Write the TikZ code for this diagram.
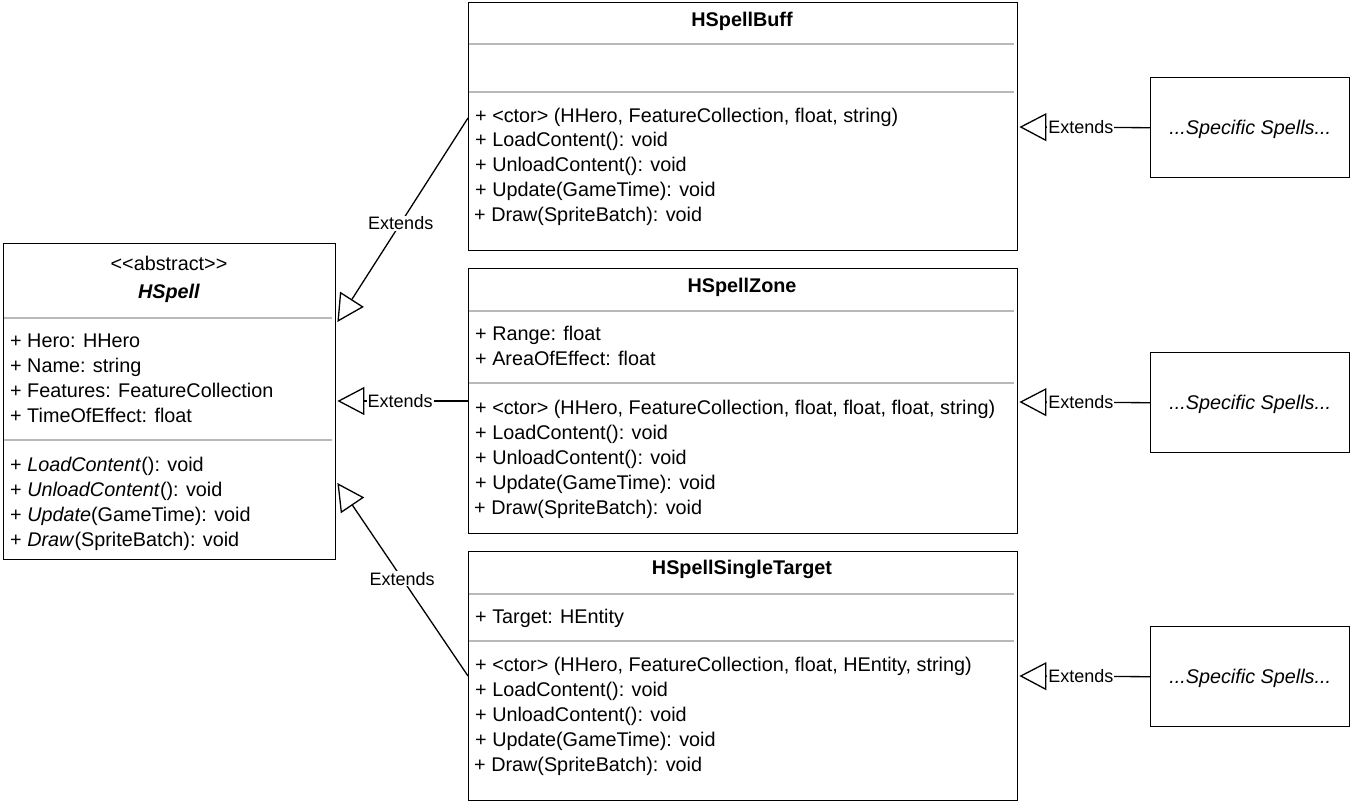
\documentclass[tikz,border=0pt]{standalone}
\usepackage{fontspec}
\setmainfont{Liberation Sans}
\usetikzlibrary{arrows.meta,calc}
\begin{document}
\begin{tikzpicture}[x=1pt,y=-1pt,
  cls/.style={draw, line width=1.4pt, inner sep=0pt, anchor=north west, fill=white},
  sep/.style={draw=gray!55, line width=1.4pt},
  txt/.style={anchor=west, inner sep=0pt, text height=14.3pt, text depth=0pt, font=\fontsize{19.8}{24}\selectfont},
  ttl/.style={anchor=center, inner sep=0pt, text height=14.3pt, text depth=0pt, font=\fontsize{19.8}{24}\selectfont\bfseries},
  lbl/.style={fill=white, inner sep=1pt, text height=13pt, text depth=0pt, font=\fontsize{18}{22}\selectfont},
  ext/.style={line width=1.3pt, -{Triangle[length=27pt, width=28pt, fill=white, line width=1.3pt]}}
]
\useasboundingbox (0,0) rectangle (1352,805);
\fill[white] (0,0) rectangle (1352,805);

% HSpell
\node[cls, minimum width=332pt, minimum height=316pt] (spell) at (3,243) {};
\node[anchor=center, inner sep=0pt, text height=14.3pt, text depth=0pt, font=\fontsize{19.8}{24}\selectfont] (spellst) at (169,263) {<{}<abstract>{}>};
\node[ttl] (spellt) at (169,291) {\textit{HSpell}};
\draw[sep] (4,318) -- (332,318);
\draw[sep] (4,440) -- (332,440);
\node[txt] (sa1) at (10,340) {+ Hero: HHero};
\node[txt] (sa2) at (10,365) {+ Name: string};
\node[txt] (sa3) at (10,390) {+ Features: FeatureCollection};
\node[txt] (sa4) at (10,415) {+ TimeOfEffect: float};
\node[txt] (sm1) at (10,464) {+ \textit{LoadContent}(): void};
\node[txt] (sm2) at (10,489) {+ \textit{UnloadContent}(): void};
\node[txt] (sm3) at (10,514) {+ \textit{Update}(GameTime): void};
\node[txt] (sm4) at (10,539) {+ \textit{Draw}(SpriteBatch): void};

% HSpellBuff
\node[cls, minimum width=549pt, minimum height=248pt] (buff) at (468,2) {};
\node[ttl] (bufft) at (742,19) {HSpellBuff};
\draw[sep] (469,44) -- (1014,44);
\draw[sep] (469,92) -- (1014,92);
\node[txt] (bm1) at (475,115) {+ <ctor> (HHero, FeatureCollection, float, string)};
\node[txt] (bm2) at (475,139) {+ LoadContent(): void};
\node[txt] (bm3) at (475,164) {+ UnloadContent(): void};
\node[txt] (bm4) at (475,189) {+ Update(GameTime): void};
\node[txt] (bm5) at (474,214) {+ Draw(SpriteBatch): void};

% HSpellZone
\node[cls, minimum width=549pt, minimum height=265pt] (zone) at (468,268) {};
\node[ttl] (zonet) at (742,285) {HSpellZone};
\draw[sep] (469,311) -- (1014,311);
\draw[sep] (469,383) -- (1014,383);
\node[txt] (za1) at (475,333) {+ Range: float};
\node[txt] (za2) at (475,358) {+ AreaOfEffect: float};
\node[txt] (zm1) at (475,407) {+ <ctor> (HHero, FeatureCollection, float, float, float, string)};
\node[txt] (zm2) at (475,432) {+ LoadContent(): void};
\node[txt] (zm3) at (475,457) {+ UnloadContent(): void};
\node[txt] (zm4) at (475,482) {+ Update(GameTime): void};
\node[txt] (zm5) at (474,507) {+ Draw(SpriteBatch): void};

% HSpellSingleTarget
\node[cls, minimum width=549pt, minimum height=249pt] (single) at (468,551) {};
\node[ttl] (singlet) at (742,567) {HSpellSingleTarget};
\draw[sep] (469,594) -- (1014,594);
\draw[sep] (469,641) -- (1014,641);
\node[txt] (ta1) at (475,616) {+ Target: HEntity};
\node[txt] (tm1) at (475,664) {+ <ctor> (HHero, FeatureCollection, float, HEntity, string)};
\node[txt] (tm2) at (475,689) {+ LoadContent(): void};
\node[txt] (tm3) at (475,714) {+ UnloadContent(): void};
\node[txt] (tm4) at (475,739) {+ Update(GameTime): void};
\node[txt] (tm5) at (474,764) {+ Draw(SpriteBatch): void};

% Specific spells
\node[cls, minimum width=199pt, minimum height=100pt] (s1) at (1150,77) {};
\node[cls, minimum width=199pt, minimum height=100pt] (s2) at (1150,352) {};
\node[cls, minimum width=199pt, minimum height=100pt] (s3) at (1150,626) {};
\node[txt, anchor=center] (s1t) at (s1.center) {\textit{...Specific Spells...}};
\node[txt, anchor=center] (s2t) at (s2.center) {\textit{...Specific Spells...}};
\node[txt, anchor=center] (s3t) at (s3.center) {\textit{...Specific Spells...}};

% Connectors
\draw[ext] ($(buff.north west)+(0,116)$) -- node[lbl, pos=0.515] {Extends} ($(spell.north east)+(1,79)$);
\draw[ext] ($(zone.north west)+(0,133)$) -- node[lbl, pos=0.52] {Extends} ($(spell.north east)+(1,158)$);
\draw[ext] ($(single.north west)+(0,125)$) -- node[lbl, pos=0.505] {Extends} ($(spell.north east)+(1,240)$);
\draw[ext] (s1.west) -- node[lbl, pos=0.53] {Extends} ($(buff.north east)+(1,125)$);
\draw[ext] (s2.west) -- node[lbl, pos=0.53] {Extends} ($(zone.north east)+(1,134)$);
\draw[ext] (s3.west) -- node[lbl, pos=0.53] {Extends} ($(single.north east)+(1,125)$);
\end{tikzpicture}
\end{document}
